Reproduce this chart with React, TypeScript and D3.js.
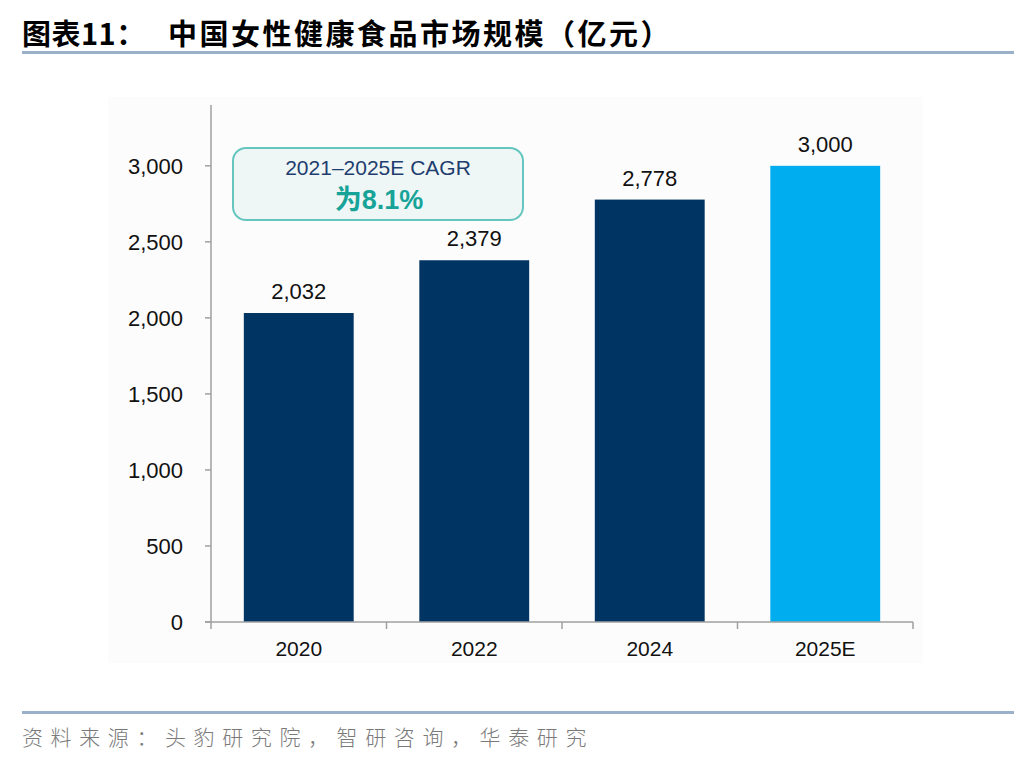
import React from "react";
import * as d3 from "d3";

// 中国女性健康食品市场规模（亿元）
const categories = ["2020", "2022", "2024", "2025E"];
const values = [2032, 2379, 2778, 3000];
const yTicks = [0, 500, 1000, 1500, 2000, 2500, 3000];
const forecast = ["2025E"];

const title = "图表11：";
const titleRest = "中国女性健康食品市场规模（亿元）";
const source = "资料来源：头豹研究院，智研咨询，华泰研究";
const cagrLine1 = "2021–2025E CAGR";
const cagrLine2 = "为8.1%";

const W = 1036;
const H = 760;
const plot = { left: 211, right: 913, top: 105, bottom: 622 };

const NAVY = "#003462";
const SKY = "#00AEEF";
const RULE = "#9BB0C9";
const AXIS = "#A0A0A0";

const fmt = d3.format(",");

export default function App() {
  const x = d3
    .scaleBand<string>()
    .domain(categories)
    .range([plot.left, plot.right])
    .paddingInner(0.374)
    .paddingOuter(0.187);

  const y = d3
    .scaleLinear()
    .domain([0, 3400])
    .range([plot.bottom, plot.top]);

  const step = x.step();
  const bounds = categories.map((_, i) => plot.left + i * step).concat(plot.right);

  return (
    <svg
      width={W}
      height={H}
      style={{ position: "absolute", left: 0, top: 0, background: "#fff" }}
      fontFamily="'Liberation Sans', Arial, sans-serif"
    >
      {/* title */}
      <text
        x={22}
        y={45}
        fontSize={29}
        fontWeight="bold"
        fill="#000"
        letterSpacing={0.5}
        fontFamily="'Noto Sans CJK SC', sans-serif"
      >
        {title}
      </text>
      <text
        x={168}
        y={45}
        fontSize={29}
        fontWeight="bold"
        fill="#000"
        letterSpacing={2.5}
        fontFamily="'Noto Sans CJK SC', sans-serif"
      >
        {titleRest}
      </text>
      <rect x={22} y={51} width={992} height={3} fill={RULE} />

      {/* faint chart area */}
      <rect x={108} y={97} width={815} height={566} fill="#FCFCFC" />

      {/* bars */}
      {categories.map((c, i) => (
        <g key={c}>
          <rect
            x={x(c)}
            y={y(values[i])}
            width={x.bandwidth()}
            height={y(0) - y(values[i])}
            fill={forecast.includes(c) ? SKY : NAVY}
          />
          <text
            x={(x(c) ?? 0) + x.bandwidth() / 2}
            y={y(values[i]) - 14}
            textAnchor="middle"
            fontSize={22}
            fill="#111"
          >
            {fmt(values[i])}
          </text>
          <text
            x={(x(c) ?? 0) + x.bandwidth() / 2}
            y={656}
            textAnchor="middle"
            fontSize={21}
            fill="#111"
          >
            {c}
          </text>
        </g>
      ))}

      {/* y axis */}
      <line x1={plot.left} x2={plot.left} y1={plot.top} y2={plot.bottom} stroke={AXIS} strokeWidth={1.5} />
      {yTicks.map((t) => (
        <g key={t}>
          <line x1={plot.left - 6} x2={plot.left} y1={y(t)} y2={y(t)} stroke={AXIS} strokeWidth={1.5} />
          <text x={183} y={y(t) + 8} textAnchor="end" fontSize={22} fill="#111">
            {fmt(t)}
          </text>
        </g>
      ))}

      {/* x axis */}
      <line x1={plot.left - 6} x2={plot.right} y1={plot.bottom} y2={plot.bottom} stroke={AXIS} strokeWidth={1.5} />
      {bounds.map((b, i) => (
        <line key={i} x1={b} x2={b} y1={plot.bottom} y2={plot.bottom + 7} stroke={AXIS} strokeWidth={1.5} />
      ))}

      {/* CAGR annotation */}
      <rect
        x={233}
        y={148}
        width={290}
        height={72}
        rx={13}
        fill="#EEF7F6"
        stroke="#66C6BF"
        strokeWidth={2}
      />
      <text x={378} y={175} textAnchor="middle" fontSize={21} fill="#1F3D6E">
        {cagrLine1}
      </text>
      <text
        x={379}
        y={209}
        textAnchor="middle"
        fontSize={27}
        fontWeight="bold"
        fill="#17A398"
        fontFamily="'Liberation Sans', 'Noto Sans CJK SC', sans-serif"
      >
        {cagrLine2}
      </text>

      {/* source */}
      <rect x={22} y={711} width={992} height={3} fill={RULE} />
      <text
        x={22}
        y={745}
        fontSize={21}
        fill="#7A7A7A"
        letterSpacing={7.6}
        fontFamily="'Noto Sans CJK SC', sans-serif"
        fontWeight={300}
      >
        {source}
      </text>
    </svg>
  );
}
